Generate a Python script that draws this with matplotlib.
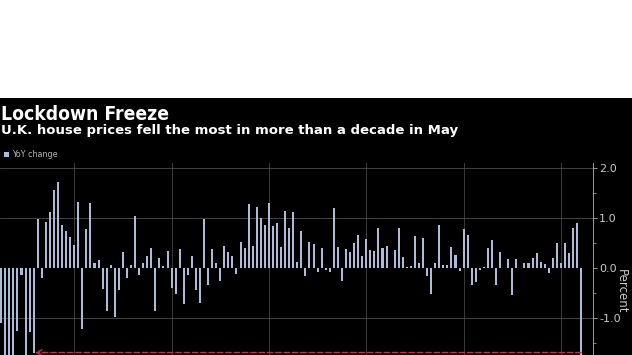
import matplotlib
matplotlib.use("Agg")
import matplotlib.pyplot as plt
from matplotlib.patches import Rectangle
import pandas as pd

# monthly house price change, percent
months = pd.date_range("2008-06-01", periods=144, freq="MS")
values = [
    -1.10, -2.00, -1.90, -1.80, -1.26, -0.14, -1.90, -1.28, -1.70, 0.99,
    -0.19, 0.93, 1.13, 1.56, 1.72, 0.87, 0.74, 0.63, 0.47, 1.32,
    -1.21, 0.78, 1.30, 0.11, 0.16, -0.41, -0.85, 0.06, -0.98, -0.44,
    0.32, -0.19, 0.07, 1.05, -0.14, 0.11, 0.25, 0.40, -0.86, 0.21,
    0.04, 0.35, -0.40, -0.51, 0.38, -0.71, -0.14, 0.24, -0.44, -0.69,
    0.99, -0.34, 0.38, 0.11, -0.26, 0.44, 0.32, 0.24, -0.11, 0.52,
    0.41, 1.29, 0.44, 1.22, 1.00, 0.87, 1.30, 0.85, 0.91, 0.42,
    1.15, 0.80, 1.13, 0.13, 0.74, -0.16, 0.52, 0.48, -0.07, 0.40,
    -0.04, -0.07, 1.20, 0.42, -0.26, 0.38, 0.33, 0.51, 0.66, 0.25,
    0.59, 0.36, 0.34, 0.81, 0.40, 0.44, 0.01, 0.36, 0.80, 0.23,
    0.02, 0.05, 0.64, 0.11, 0.60, -0.15, -0.51, 0.11, 0.87, 0.07,
    0.06, 0.42, 0.27, -0.05, 0.79, 0.66, -0.34, -0.28, -0.04, 0.03,
    0.40, 0.56, -0.34, 0.32, 0.01, 0.19, -0.54, 0.19, 0.01, 0.11,
    0.11, 0.21, 0.30, 0.12, 0.08, -0.09, 0.21, 0.51, 0.11, 0.51,
    0.31, 0.81, 0.91, -1.76,
]
low_month = 8          # last time the fall was this big
low_level = -1.69

title = "Lockdown Freeze"
subtitle = "U.K. house prices fell the most in more than a decade in May"
series_name = "YoY change"
y_ticks = [-1.0, 0.0, 1.0, 2.0]

W, H = 632, 355
fig = plt.figure(figsize=(W / 100, H / 100), dpi=100, facecolor="black")

# white strip above the chart
fig.patches.append(Rectangle((0, 1 - 98 / H), 1, 98 / H, transform=fig.transFigure,
                             facecolor="white", edgecolor="none"))

ax = fig.add_axes([0, 0, 593 / W, (H - 163) / H])
ax.set_facecolor("black")

x = list(range(len(months)))
ax.bar(x, values, width=0.5, color="#adbbdb", zorder=3)

ax.set_xlim(-0.3, 145.9)
ax.set_ylim(-1.74, 2.1)

# vertical grid every two years
for gx in range(18, len(months), 24):
    ax.axvline(gx, color="#3a3a3a", lw=0.7, zorder=1)
for gy in [-1.0, 1.0, 2.0]:
    ax.axhline(gy, color="#4d4d4d", lw=0.6, zorder=1)

ax.annotate("", xy=(low_month + 0.3, low_level), xytext=(len(months) - 1, low_level),
            arrowprops=dict(arrowstyle="->", color="#c0304a", lw=1.0,
                            linestyle=(0, (4, 2)), shrinkA=0, shrinkB=0),
            zorder=4)

for s in ["top", "left", "bottom"]:
    ax.spines[s].set_visible(False)
ax.spines["right"].set_color("#9a9a9a")
ax.spines["right"].set_linewidth(0.7)
ax.set_xticks([])
ax.yaxis.tick_right()
ax.set_yticks(y_ticks)
ax.set_yticklabels([f"{t:.1f}" for t in y_ticks])
ax.set_yticks([-1.5, -0.5, 0.5, 1.5], minor=True)
ax.tick_params(axis="y", which="major", colors="#9a9a9a", labelcolor="#c8c8c8",
               labelsize=8, length=3, width=0.7, pad=1.5)
ax.tick_params(axis="y", which="minor", colors="#9a9a9a", length=2, width=0.6)

fig.text(621 / W, 1 - 291 / H, "Percent", rotation=270, color="#c8c8c8",
         fontsize=8.5, ha="center", va="center")

fig.text(1 / W, 1 - 120 / H, title, color="white", fontsize=13.9,
         fontweight="bold", fontstretch="condensed", ha="left", va="baseline")
fig.text(1 / W, 1 - 134 / H, subtitle, color="white", fontsize=9.5,
         fontweight="bold", ha="left", va="baseline")

fig.patches.append(Rectangle((4 / W, 1 - 157 / H), 5 / W, 5 / H, transform=fig.transFigure,
                             facecolor="#adbbdb", edgecolor="none", zorder=3))
fig.text(12 / W, 1 - 154.5 / H, series_name, color="#b8b8b8", fontsize=5.8,
         ha="left", va="center")

fig.savefig("out.png", dpi=100, facecolor="black")
